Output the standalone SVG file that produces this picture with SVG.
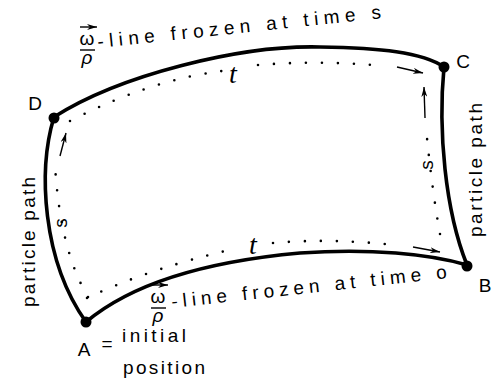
<svg xmlns="http://www.w3.org/2000/svg" width="501" height="380" viewBox="0 0 501 380">
<style>
.edge{fill:none;stroke:#000;stroke-width:3.6;stroke-linecap:round}
.dot{fill:none;stroke:#000;stroke-width:2.6;stroke-linecap:round;stroke-dasharray:0 16}
.arr{fill:none;stroke:#000;stroke-width:1.4}
.lbl{font-family:"Liberation Sans",Arial,sans-serif;font-size:19px;fill:#000}
.nl{font-family:"Liberation Sans",Arial,sans-serif;font-size:19px;fill:#000}
.tt{font-family:"Liberation Serif","Times New Roman",serif;font-style:italic;font-size:28px;fill:#000}
</style>
<defs>
<marker id="ah" viewBox="0 0 10 6" refX="10" refY="3" markerWidth="10" markerHeight="6" markerUnits="userSpaceOnUse" orient="auto">
<path d="M0,0 L10,3 L0,6 L3,3 Z" fill="#000"/>
</marker>
</defs>
<g id="connectors">
<path class="edge" d="M54,117 C120,75 240,45 320,47 C380,48 422,52 444,67"/>
<path class="edge" d="M86,322 C130,285 200,262 300,253 C370,248 430,254 467,265"/>
<path class="edge" d="M54,117 C38,170 42,260 86,322"/>
<path class="edge" d="M444,67 C438,130 445,210 467,265"/>
<path class="dot" d="M70,121 Q150,80 222,71"/>
<path class="dot" d="M258,65 Q320,60 385,66"/>
<path class="dot" d="M87,298 Q150,268 238,248"/>
<path class="dot" d="M273,243 Q330,238 395,245"/>
<path class="dot" d="M88,297 Q60,250 55,165"/>
<path class="dot" d="M440,234 Q432,190 426,128"/>
<line class="arr" x1="397" y1="67" x2="423" y2="73" marker-end="url(#ah)"/>
<line class="arr" x1="413" y1="247" x2="440" y2="252" marker-end="url(#ah)"/>
<line class="arr" x1="60" y1="156" x2="66" y2="133" marker-end="url(#ah)"/>
<line class="arr" x1="425" y1="118" x2="424" y2="87" marker-end="url(#ah)"/>
<text class="tt" x="229" y="83">t</text>
<text class="tt" x="249" y="254">t</text>
<text class="lbl" transform="translate(67,223) rotate(-90)" text-anchor="middle">s</text>
<text class="lbl" transform="translate(433,165) rotate(-90)" text-anchor="middle">s</text>
</g>
<g id="node-A">
<circle cx="86" cy="322" r="5.5" fill="#000"/>
<text class="nl" x="84" y="356" text-anchor="middle">A</text>
<text class="nl" x="107" y="350" text-anchor="middle">=</text>
<text class="lbl" x="122" y="342" textLength="64" lengthAdjust="spacing">initial</text>
<text class="lbl" x="123" y="374" textLength="82" lengthAdjust="spacing">position</text>
</g>
<g id="node-B">
<circle cx="467" cy="266" r="5.5" fill="#000"/>
<text class="nl" x="485" y="292" text-anchor="middle">B</text>
</g>
<g id="node-C">
<circle cx="444" cy="67" r="5.5" fill="#000"/>
<text class="nl" x="463" y="68" text-anchor="middle">C</text>
</g>
<g id="node-D">
<circle cx="54" cy="118" r="5.5" fill="#000"/>
<text class="nl" x="35" y="110" text-anchor="middle">D</text>
</g>
<g id="label-top">
<line class="arr" x1="80" y1="27" x2="97" y2="27" marker-end="url(#ah)"/>
<text class="lbl" x="87" y="45" text-anchor="middle">ω</text>
<line x1="80" y1="50" x2="95" y2="50" stroke="#000" stroke-width="1.4"/>
<text class="lbl" x="87" y="64" text-anchor="middle" font-style="italic">ρ</text>
<text class="lbl" transform="translate(98,48) rotate(-6)" textLength="285" lengthAdjust="spacing">-line frozen at time s</text>
</g>
<g id="label-bottom">
<line class="arr" x1="150" y1="285" x2="168" y2="285" marker-end="url(#ah)"/>
<text class="lbl" x="158" y="303" text-anchor="middle">ω</text>
<line x1="151" y1="308" x2="166" y2="308" stroke="#000" stroke-width="1.4"/>
<text class="lbl" x="158" y="322" text-anchor="middle" font-style="italic">ρ</text>
<text class="lbl" transform="translate(172,308) rotate(-6.2)" textLength="277" lengthAdjust="spacing">-line frozen at time o</text>
</g>
<g id="label-left">
<text class="lbl" transform="translate(35,307) rotate(-90)" textLength="130" lengthAdjust="spacing">particle path</text>
</g>
<g id="label-right">
<text class="lbl" transform="translate(482,237) rotate(-90)" textLength="134" lengthAdjust="spacing">particle path</text>
</g>
</svg>
